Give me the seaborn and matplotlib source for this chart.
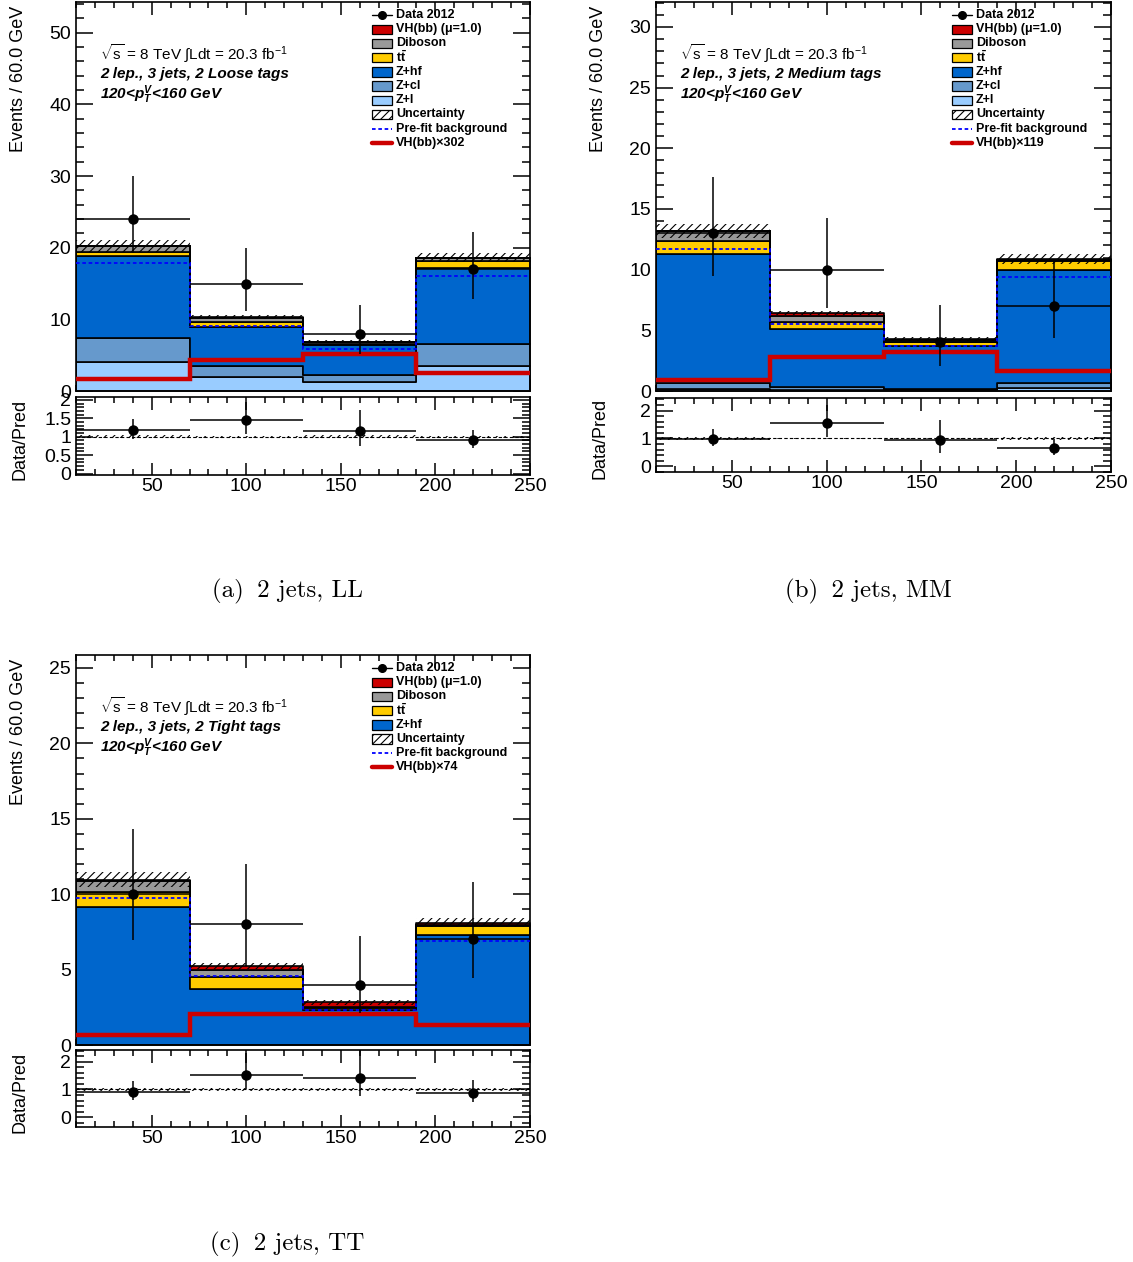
import numpy as np
import pandas as pd
import matplotlib
matplotlib.use('Agg')
import matplotlib.pyplot as plt
from matplotlib.patches import Rectangle
from matplotlib.lines import Line2D
from matplotlib.ticker import MultipleLocator, FuncFormatter
import seaborn as sns

sns.set_style('ticks')
plt.rcParams['font.family'] = ['Liberation Sans', 'DejaVu Sans']
plt.rcParams['mathtext.fontset'] = 'custom'
plt.rcParams['mathtext.rm'] = 'Liberation Sans'
plt.rcParams['mathtext.it'] = 'Liberation Sans:italic'
plt.rcParams['mathtext.bf'] = 'Liberation Sans:bold'
plt.rcParams['mathtext.sf'] = 'Liberation Sans:bold:italic'
plt.rcParams['hatch.linewidth'] = 0.8
plt.rcParams['text.color'] = 'black'
plt.rcParams['axes.labelcolor'] = 'black'
plt.rcParams['xtick.color'] = 'black'
plt.rcParams['ytick.color'] = 'black'

# binning (GeV)
edges = [10, 70, 130, 190, 250]
centers = [40, 100, 160, 220]

processes = ['VH(bb)', 'Diboson', 'ttbar', 'Z+hf', 'Z+cl', 'Z+l']
colors = {'VH(bb)': '#cc0000', 'Diboson': '#999999', 'ttbar': '#ffcc00',
          'Z+hf': '#0066cc', 'Z+cl': '#6699cc', 'Z+l': '#99ccff'}

# ---- 2 Loose tags
ll_zl = [4.0, 1.9, 1.2, 3.5]
ll_zcl = [3.35, 1.65, 1.0, 3.1]
ll_zhf = [11.45, 5.4, 4.2, 10.55]
ll_tt = [0.6, 0.65, 0.2, 1.05]
ll_db = [0.8, 0.6, 0.25, 0.35]
ll_vh = [0.05, 0.1, 0.05, 0.05]
ll_unc = [0.85, 0.3, 0.25, 0.6]
ll_prefit = [17.9, 9.07, 5.8, 16.1]
ll_sig = [1.64, 4.28, 5.2, 2.57]
ll_data = [24, 15, 8, 17]
ll_data_lo = [19.2, 11.2, 5.2, 12.9]
ll_data_hi = [30.0, 19.9, 12.0, 22.2]

# ---- 2 Medium tags
mm_zl = [0.2, 0.05, 0.05, 0.25]
mm_zcl = [0.5, 0.25, 0.1, 0.45]
mm_zhf = [10.6, 4.82, 3.59, 9.24]
mm_tt = [1.1, 0.54, 0.31, 0.74]
mm_db = [0.75, 0.54, 0.13, 0.14]
mm_vh = [0.05, 0.23, 0.12, 0.08]
mm_unc = [0.55, 0.2, 0.15, 0.4]
mm_prefit = [11.7, 5.55, 3.69, 9.4]
mm_sig = [0.89, 2.78, 3.2, 1.63]
mm_data = [13, 10, 4, 7]
mm_data_lo = [9.45, 6.85, 2.04, 4.38]
mm_data_hi = [17.65, 14.25, 7.1, 10.7]

# ---- 2 Tight tags
tt_zhf = [9.13, 3.72, 2.35, 7.27]
tt_tt = [1.02, 0.77, 0.1, 0.6]
tt_db = [0.75, 0.51, 0.05, 0.08]
tt_vh = [0.05, 0.22, 0.33, 0.15]
tt_unc = [0.5, 0.2, 0.15, 0.3]
tt_prefit = [9.75, 4.56, 2.3, 6.88]
tt_sig = [0.63, 2.06, 2.06, 1.31]
tt_data = [10, 8, 4, 7]
tt_data_lo = [6.94, 5.26, 2.13, 4.45]
tt_data_hi = [14.3, 12.0, 7.2, 10.8]

W, H = 1133, 1262


def rect(l, t, r, b):
    return [l / W, 1 - b / H, (r - l) / W, (b - t) / H]


def style_axes(ax, xmaj_len, xmin_len, ymaj_len, ymin_len):
    for s in ax.spines.values():
        s.set_linewidth(1.2)
        s.set_color('black')
    ax.tick_params(which='both', direction='in', top=True, right=True,
                   width=1.1, color='black', labelcolor='black', labelsize=14, pad=3.5)
    ax.tick_params(axis='x', which='major', length=xmaj_len)
    ax.tick_params(axis='x', which='minor', length=xmin_len)
    ax.tick_params(axis='y', which='major', length=ymaj_len)
    ax.tick_params(axis='y', which='minor', length=ymin_len)
    ax.xaxis.set_major_locator(MultipleLocator(50))
    ax.xaxis.set_minor_locator(MultipleLocator(10))
    ax.yaxis.set_major_formatter(FuncFormatter(lambda v, p: f'{v:g}'))
    ax.set_xlim(10, 250)


def draw_legend(ax, h_px, w_px, rows):
    x0 = (372 - 76) / w_px
    bw = 20 / w_px
    xt = (396 - 76) / w_px
    for i, (kind, label, col) in enumerate(rows):
        yc = 1 - (13 + 14.2 * i) / h_px
        bh = 9.4 / h_px
        if kind == 'data':
            ax.add_line(Line2D([x0, x0 + bw], [yc, yc], color='black', lw=1.0,
                               transform=ax.transAxes))
            ax.add_line(Line2D([x0 + bw / 2], [yc], marker='o', ms=5.5, color='black',
                               transform=ax.transAxes))
        elif kind == 'box':
            ax.add_patch(Rectangle((x0, yc - bh / 2), bw, bh, facecolor=col,
                                   edgecolor='black', lw=0.9, transform=ax.transAxes))
        elif kind == 'hatch':
            ax.add_patch(Rectangle((x0, yc - bh / 2), bw, bh, facecolor='white',
                                   edgecolor='black', lw=0.9, hatch='////',
                                   transform=ax.transAxes))
        elif kind == 'prefit':
            ax.add_line(Line2D([x0, x0 + bw], [yc, yc], color='#0000ff', lw=1.3,
                               ls=(0, (2, 1.5)), transform=ax.transAxes))
        elif kind == 'sig':
            ax.add_line(Line2D([x0, x0 + bw], [yc, yc], color='#cc0000', lw=3.2,
                               transform=ax.transAxes))
        ax.text(xt, yc, label, transform=ax.transAxes, va='center', ha='left',
                fontsize=9, fontweight='bold')


def draw_panel(fig, main_r, ratio_r, comps, unc, prefit, sig, scale, data, lo, hi,
               tag, ymax, ymaj, ymin_, rlim, rmaj, rmin):
    ax = fig.add_axes(rect(*main_r))
    rax = fig.add_axes(rect(*ratio_r))
    w_px = main_r[2] - main_r[0]
    h_px = main_r[3] - main_r[1]

    # stacked backgrounds via seaborn
    rows = []
    for proc, vals in comps.items():
        for c, v in zip(centers, vals):
            rows.append({'proc': proc, 'x': c, 'w': v})
    df = pd.DataFrame(rows)
    order = [p for p in processes if p in comps]
    sns.histplot(data=df, x='x', weights='w', hue='proc', hue_order=order,
                 palette=colors, bins=edges, multiple='stack', element='step',
                 fill=True, alpha=1, edgecolor='black', linewidth=1.2,
                 legend=False, ax=ax)

    total = np.sum([np.array(v) for v in comps.values()], axis=0)
    unc = np.array(unc)
    ax.stairs(total + unc, edges, baseline=total - unc, fill=True, facecolor='none',
              edgecolor='black', hatch='////', lw=0, zorder=3)
    ax.stairs(prefit, edges, baseline=None, color='#0000ff', lw=1.3,
              ls=(0, (2, 1.5)), zorder=4)
    ax.stairs(sig, edges, baseline=None, color='#cc0000', lw=3.2, zorder=5)

    data = np.array(data, float)
    lo = np.array(lo)
    hi = np.array(hi)
    ax.errorbar(centers, data, xerr=30, yerr=[data - lo, hi - data], fmt='o',
                color='black', ms=6.5, lw=1.1, capsize=0, zorder=6)

    style_axes(ax, 9, 4.5, 12, 6)
    ax.set_ylim(0, ymax)
    ax.yaxis.set_major_locator(MultipleLocator(ymaj))
    ax.yaxis.set_minor_locator(MultipleLocator(ymin_))
    ax.tick_params(axis='x', labelbottom=False)
    ax.set_xlabel('')
    ax.set_ylabel('Events / 60.0 GeV', loc='top', fontsize=13)
    ax.yaxis.set_label_coords(-0.108, 0.99)

    # text block
    x_t = 24 / w_px
    ax.text(x_t, 1 - 51 / h_px,
            r'$\sqrt{\mathrm{s}}$ = 8 TeV $\int$Ldt = 20.3 fb$^{\mathrm{-1}}$',
            transform=ax.transAxes, va='center', fontsize=11)
    ax.text(x_t, 1 - 72 / h_px, f'2 lep., 3 jets, 2 {tag} tags', transform=ax.transAxes,
            va='center', fontsize=11, fontweight='bold', fontstyle='italic')
    ax.text(x_t, 1 - 93 / h_px, r'120<$\mathsf{p_T^V}$<160 GeV', transform=ax.transAxes,
            va='center', fontsize=11, fontweight='bold', fontstyle='italic')

    leg = [('data', 'Data 2012', None), ('box', 'VH(bb) (\u03bc=1.0)', colors['VH(bb)']),
           ('box', 'Diboson', colors['Diboson']), ('box', r'$\mathbf{t\bar{t}}$', colors['ttbar']),
           ('box', 'Z+hf', colors['Z+hf'])]
    if 'Z+cl' in comps:
        leg += [('box', 'Z+cl', colors['Z+cl']), ('box', 'Z+l', colors['Z+l'])]
    leg += [('hatch', 'Uncertainty', None), ('prefit', 'Pre-fit background', None),
            ('sig', f'VH(bb)\u00d7{scale}', None)]
    draw_legend(ax, h_px, w_px, leg)

    # ratio panel
    rel = unc / total
    rax.stairs(1 + rel, edges, baseline=1 - rel, fill=True, facecolor='none',
               edgecolor='black', hatch='////', lw=0)
    rax.axhline(1, color='black', lw=0.8, ls=(0, (3, 2)))
    rax.errorbar(centers, data / total, xerr=30,
                 yerr=[(data - lo) / total, (hi - data) / total], fmt='o',
                 color='black', ms=6.5, lw=1.1, capsize=0, zorder=5)
    style_axes(rax, 9, 4.5, 12, 6)
    rax.set_ylim(*rlim)
    rax.yaxis.set_major_locator(MultipleLocator(rmaj))
    rax.yaxis.set_minor_locator(MultipleLocator(rmin))
    rax.tick_params(axis='x', pad=2.5)
    rax.set_ylabel('Data/Pred', fontsize=13)
    rax.yaxis.set_label_coords(-0.105, 0.45)


fig = plt.figure(figsize=(W / 100, H / 100), dpi=100)

draw_panel(fig, (76, 2, 530, 391), (76, 397, 530, 475),
           {'VH(bb)': ll_vh, 'Diboson': ll_db, 'ttbar': ll_tt, 'Z+hf': ll_zhf,
            'Z+cl': ll_zcl, 'Z+l': ll_zl},
           ll_unc, ll_prefit, ll_sig, 302, ll_data, ll_data_lo, ll_data_hi,
           'Loose', 54.3, 10, 2, (-0.04, 2.08), 0.5, 0.1)

draw_panel(fig, (656, 2, 1111, 391), (656, 398, 1111, 472),
           {'VH(bb)': mm_vh, 'Diboson': mm_db, 'ttbar': mm_tt, 'Z+hf': mm_zhf,
            'Z+cl': mm_zcl, 'Z+l': mm_zl},
           mm_unc, mm_prefit, mm_sig, 119, mm_data, mm_data_lo, mm_data_hi,
           'Medium', 32.06, 5, 1, (-0.2, 2.45), 1, 0.2)

draw_panel(fig, (76, 655, 530, 1045), (76, 1050, 530, 1127),
           {'VH(bb)': tt_vh, 'Diboson': tt_db, 'ttbar': tt_tt, 'Z+hf': tt_zhf},
           tt_unc, tt_prefit, tt_sig, 74, tt_data, tt_data_lo, tt_data_hi,
           'Tight', 25.86, 5, 1, (-0.35, 2.42), 1, 0.2)

cap = dict(ha='center', va='center', family=['cmr10', 'DejaVu Serif'], fontsize=18)
fig.text(287.5 / W, 1 - 591 / H, '(a) \u20092 jets, LL', **cap)
fig.text(868 / W, 1 - 591 / H, '(b) \u20092 jets, MM', **cap)
fig.text(287.5 / W, 1 - 1244 / H, '(c) \u20092 jets, TT', **cap)

fig.savefig('out.png', dpi=100)
